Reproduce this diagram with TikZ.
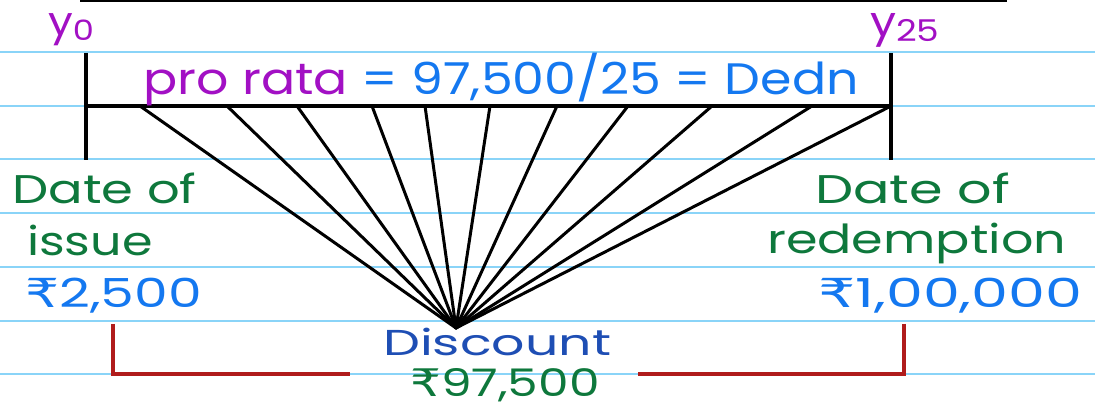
\documentclass[tikz,border=0pt]{standalone}
\usepackage{fontspec}
\usepackage{graphicx}
\setmainfont{Poppins}
\newfontfamily\rupfont{DejaVu Sans}
\definecolor{rulecol}{RGB}{138,212,248}
\definecolor{purp}{RGB}{162,16,196}
\definecolor{penblue}{RGB}{20,120,240}
\definecolor{pengreen}{RGB}{14,120,60}
\definecolor{darkblue}{RGB}{30,78,180}
\definecolor{penred}{RGB}{176,28,28}
\newcommand{\hw}[3]{\fontsize{#1}{#1}\selectfont\scalebox{#2}[1]{#3}}
\begin{document}
\begin{tikzpicture}[x=1pt,y=-1pt,
  ruling/.style={draw=rulecol,line width=1.6pt},
  ink/.style={draw=black,line width=3.2pt},
  fanline/.style={draw=black,line width=3pt},
  bracket/.style={draw=penred,line width=3.2pt},
  txt/.style={inner sep=0pt,anchor=west}]
\useasboundingbox (0,0) rectangle (1095,419);
\fill[white] (0,0) rectangle (1095,419);
\foreach \yy in {52,106,159,213,267,321,374}
  \draw[ruling] (0,\yy) -- (1095,\yy);
% top edge
\coordinate (topL) at (80,0.8);
\coordinate (topR) at (1007,0.8);
\draw[ink] (topL) -- (topR);
% time line
\coordinate (vLt) at (86,53);
\coordinate (vLb) at (86,160);
\coordinate (vRt) at (891,53);
\coordinate (vRb) at (891,160);
\coordinate (barL) at (86,106);
\coordinate (barR) at (891,106);
\draw[ink] (vLt) -- (vLb);
\draw[ink] (vRt) -- (vRb);
\draw[ink] (barL) -- (barR);
% fan
\coordinate (apex) at (456,328);
\foreach \xx [count=\i] in {140,227,297,372,425,490,557,628,712,812,891}{
  \coordinate (f\i) at (\xx,106);
  \draw[fanline,line cap=round] (f\i) -- (apex);
}
% bracket
\coordinate (bL1) at (113,324);
\coordinate (bL2) at (113,374);
\coordinate (bL3) at (350,374);
\coordinate (bR1) at (904,324);
\coordinate (bR2) at (904,374);
\coordinate (bR3) at (638,374);
\draw[bracket] (bL1) -- (bL2) -- (bL3);
\draw[bracket] (bR1) -- (bR2) -- (bR3);
% labels
\node[txt,text=purp] (y0) at (48,30) {\hw{40}{1.1}{y}\raisebox{-5pt}{\hw{28}{1.2}{0}}};
\node[txt,text=purp] (y25) at (870,30) {\hw{42}{1.1}{y}\raisebox{-5pt}{\hw{30}{1.2}{25}}};
\node[txt] (prorata) at (143,80) {\hw{44}{1.15}{\textcolor{purp}{pro rata} \textcolor{penblue}{= 97,500/25 = Dedn}}};
\node[txt,text=pengreen] (doi) at (12,188) {\hw{40}{1.28}{Date of}};
\node[txt,text=pengreen] (issue) at (27,240) {\hw{40}{1.23}{issue}};
\node[txt,text=penblue] (p1) at (25,296) {\hw{40}{1.34}{{\rupfont ₹}2,500}};
\node[txt,text=pengreen] (dor) at (815,188) {\hw{40}{1.35}{Date of}};
\node[txt,text=pengreen] (redem) at (767,243) {\hw{40}{1.27}{redemption}};
\node[txt,text=penblue] (p2) at (818,296) {\hw{40}{1.47}{{\rupfont ₹}1,00,000}};
\node[txt,text=darkblue] (disc) at (383,342) {\hw{36}{1.45}{Discount}};
\node[txt,text=pengreen] (p3) at (410,385) {\hw{38}{1.28}{{\rupfont ₹}97,500}};
\end{tikzpicture}
\end{document}
